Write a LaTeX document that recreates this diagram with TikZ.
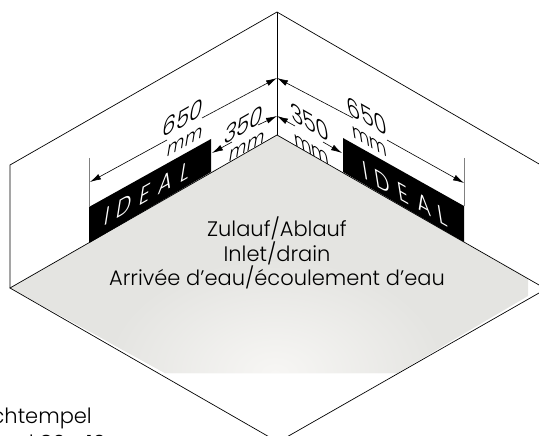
\documentclass[tikz,border=0pt]{standalone}
\usepackage{fontspec}
\usetikzlibrary{arrows.meta}
\setmainfont{Poppins Light}
\definecolor{floorgray}{HTML}{E4E4E1}
\definecolor{floorlight}{HTML}{F7F6F4}
\tikzset{
	wall/.style = {line width = 0.7 pt},
	tick/.style = {line width = 1 pt, gray},
	dimline/.style = {line width = 0.6 pt},
	leftlabel/.style = {transform shape, cm = {1, 0.5725, 0.2, 1.25, (0, 0)}, inner sep = 0 pt, font = \fontsize{21}{21}\selectfont},
	rightlabel/.style = {transform shape, cm = {1, -0.5725, -0.2, 1.25, (0, 0)}, inner sep = 0 pt, font = \fontsize{21}{21}\selectfont},
	unitlabel/.style = {font = \fontsize{17}{17}\selectfont}
}

\begin{document}

\begin{tikzpicture}[> = {Latex[length=11pt, width=6pt]}, x = 1 pt, y = -1 pt]

	% Picture size

	\useasboundingbox (0, 0) rectangle (539, 436);
	\clip (0, 0) rectangle (539, 436);

	% Corners of the room

	\coordinate (topback) at (277, 12);
	\coordinate (floorback) at (277, 135);
	\coordinate (topleft) at (10, 165);
	\coordinate (floorleft) at (10, 288);
	\coordinate (topright) at (546, 168);
	\coordinate (floorright) at (546, 289);
	\coordinate (floorfront) at (278, 442);

	% The floor

	\begin{scope}
		\clip (10, 288) -- (277, 135) -- (528, 279) -- (528, 296) -- (397, 373) -- (165, 373) -- cycle;
		\fill [floorgray] (0, 130) rectangle (539, 380);
		\shade [inner color = floorlight, outer color = floorgray] (275, 373) ellipse (170 and 115);
	\end{scope}

	% Walls and floor edges

	\draw [wall] (floorleft) -- (topleft) -- (topback) -- (topright);
	\draw [wall] (floorleft) -- (floorback) -- (floorright) -- (floorfront) -- cycle;
	\draw [line width = 1 pt] (topback) -- (floorback);

	% The black bands

	\fill (89, 207) -- (211, 139) -- (211, 172) -- (89, 243) -- cycle;
	\fill (343, 138) -- (464, 206) -- (464, 242) -- (343, 172) -- cycle;

	\node [leftlabel, white] (idealleft) at (147, 193) {I\hspace{8 pt}D\hspace{8 pt}E\hspace{8 pt}A\hspace{8 pt}L};
	\node [rightlabel, white] (idealright) at (405, 194) {I\hspace{8 pt}D\hspace{8 pt}E\hspace{8 pt}A\hspace{8 pt}L};

	% Extension ticks

	\draw [tick] (89, 158) -- (89, 207);
	\draw [tick] (464, 158) -- (464, 206);

	% Measures, left wall

	\coordinate (midleft) at (277, 78);
	\coordinate (lowleft) at (277, 116);

	\node [leftlabel] (longleft) at (183, 118) {650};
	\node [leftlabel, unitlabel] (longleftmm) at (185, 142) {mm};
	\node [leftlabel] (shortleft) at (244, 125) {350};
	\node [leftlabel, unitlabel] (shortleftmm) at (247, 147) {mm};

	\draw [dimline, ->] (167, 140) -- (90, 182);
	\draw [dimline, ->] (202, 118) -- (midleft);
	\draw [dimline, ->] (232, 142) -- (212, 153);
	\draw [dimline, ->] (258, 125) -- (lowleft);

	% Measures, right wall

	\node [rightlabel] (longright) at (367, 116) {650};
	\node [rightlabel, unitlabel] (longrightmm) at (370, 142) {mm};
	\node [rightlabel] (shortright) at (310, 122) {350};
	\node [rightlabel, unitlabel] (shortrightmm) at (312, 150) {mm};

	\draw [dimline, ->] (353, 118) -- (midleft);
	\draw [dimline, ->] (387, 140) -- (464, 183);
	\draw [dimline, ->] (295, 126) -- (lowleft);
	\draw [dimline, ->] (323, 142) -- (342, 153);

	% Text on the floor

	\node [align = center, font = \fontsize{21}{24.5}\selectfont] (inlet) at (277, 253) {Zulauf/Ablauf\\Inlet/drain\\Arrivée d\char39 eau/écoulement d\char39 eau};

	% Cut off text in the corner

	\node [anchor = base east, inner sep = 0 pt, font = \fontsize{21}{21}\selectfont] (stamp) at (92, 423) {Richtempel};
	\node [anchor = base east, inner sep = 0 pt, font = \fontsize{21}{21}\selectfont] (stampsize) at (106, 450) {d 80 x 10};

\end{tikzpicture}

\end{document}
